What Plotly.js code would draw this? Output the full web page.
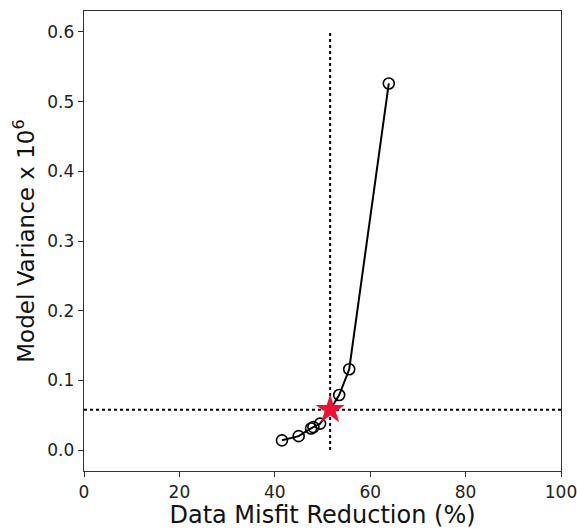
<!DOCTYPE html>
<html><head><meta charset="utf-8">
<script src="https://cdn.plot.ly/plotly-3.0.1.min.js"></script>
<style>html,body{margin:0;padding:0;background:#fff}</style>
</head><body>
<div id="chart" style="width:577px;height:529px"></div>
<script>
const misfitReduction = [41.5, 45.0, 47.6, 48.1, 49.5, 51.6, 53.5, 55.6, 63.9];
const modelVariance = [0.014, 0.020, 0.031, 0.033, 0.038, 0.058, 0.079, 0.116, 0.526];
const chosenMisfit = [51.6];
const chosenVariance = [0.058];
const xTicks = [0, 20, 40, 60, 80, 100];
const yTicks = [0.0, 0.1, 0.2, 0.3, 0.4, 0.5, 0.6];
const yTickLabels = ["0.0", "0.1", "0.2", "0.3", "0.4", "0.5", "0.6"];

const circX = misfitReduction.filter((v, i) => i !== 5);
const circY = modelVariance.filter((v, i) => i !== 5);

const traces = [
  {x: [chosenMisfit[0], chosenMisfit[0]], y: [0, 0.6], mode: 'lines',
   line: {color: '#000', width: 2, dash: 'dot'}, hoverinfo: 'skip'},
  {x: [0, 100], y: [chosenVariance[0], chosenVariance[0]], mode: 'lines',
   line: {color: '#000', width: 2, dash: 'dot'}, hoverinfo: 'skip'},
  {x: misfitReduction, y: modelVariance, mode: 'lines',
   line: {color: '#000', width: 2}},
  {x: circX, y: circY, mode: 'markers',
   marker: {symbol: 'circle-open', size: 11, color: '#000', line: {width: 1.6, color: '#000'}}},
  {x: chosenMisfit, y: chosenVariance, mode: 'markers',
   marker: {symbol: 'star', size: 22, color: '#ee1133', line: {width: 0}}}
];

const axisFont = {family: 'DejaVu Sans', size: 17, color: '#222'};
const layout = {
  width: 577, height: 529,
  margin: {l: 84, r: 16, t: 11, b: 58},
  paper_bgcolor: '#fff', plot_bgcolor: '#fff',
  showlegend: false,
  xaxis: {
    range: [0, 100], tickvals: xTicks, ticks: 'outside', ticklen: 5, tickwidth: 1,
    tickcolor: '#333', showline: true, linecolor: '#333', linewidth: 1.3, mirror: true,
    showgrid: false, zeroline: false, tickfont: axisFont, ticklabeloverflow: 'allow',
    title: {text: 'Data Misfit Reduction (%)', font: {family: 'DejaVu Sans', size: 24, color: '#111'}, standoff: 2}
  },
  yaxis: {
    range: [-0.03, 0.63], tickvals: yTicks, ticktext: yTickLabels, ticks: 'outside', ticklen: 5, tickwidth: 1,
    tickcolor: '#333', showline: true, linecolor: '#333', linewidth: 1.3, mirror: true,
    showgrid: false, zeroline: false, tickfont: axisFont, ticklabeloverflow: 'allow',
    title: {text: 'Model Variance x 10<sup>6</sup>', font: {family: 'DejaVu Sans', size: 23, color: '#111'}, standoff: 6}
  }
};
Plotly.newPlot('chart', traces, layout, {displayModeBar: false, staticPlot: true});
</script>
</body></html>
